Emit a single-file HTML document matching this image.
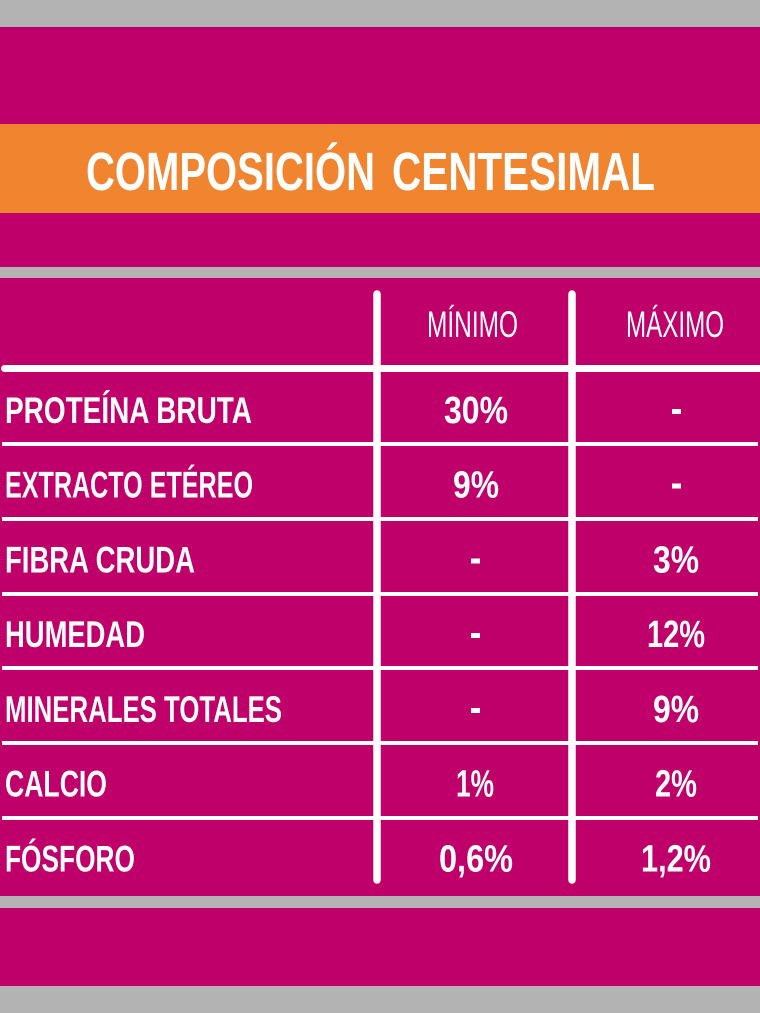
<!DOCTYPE html>
<html><head><meta charset="utf-8">
<style>
html,body{margin:0;padding:0;background:#b3b3b3;}
svg{display:block;}
.lab{font-family:"Liberation Sans Narrow","Liberation Sans",sans-serif;font-weight:bold;font-size:37px;fill:#fff;}
.val{font-family:"Liberation Sans Narrow","Liberation Sans",sans-serif;font-weight:bold;font-size:38px;fill:#fff;}
.hd{font-family:"Liberation Sans",sans-serif;font-weight:normal;font-size:37px;fill:#fff;}
.tt{font-family:"Liberation Sans",sans-serif;font-weight:bold;font-size:54px;fill:#fff;}
</style></head>
<body>
<svg width="760" height="1013" viewBox="0 0 760 1013" xmlns="http://www.w3.org/2000/svg">
  <rect x="0" y="0" width="760" height="1013" fill="#b3b3b3"/>
  <rect x="0" y="27" width="760" height="97" fill="#c0006a"/>
  <rect x="0" y="124" width="760" height="89" fill="#f0842f"/>
  <rect x="0" y="213" width="760" height="54" fill="#c0006a"/>
  <rect x="0" y="278" width="760" height="618" fill="#c0006a"/>
  <rect x="0" y="908" width="760" height="78" fill="#c0006a"/>

  <!-- title -->
  <text class="tt" x="86" y="190" textLength="289" lengthAdjust="spacingAndGlyphs">COMPOSICIÓN</text>
  <text class="tt" x="392" y="190" textLength="263" lengthAdjust="spacingAndGlyphs">CENTESIMAL</text>

  <!-- vertical lines -->
  <line x1="377" y1="294" x2="377" y2="880" stroke="#fff" stroke-width="7.5" stroke-linecap="round"/>
  <line x1="572" y1="294" x2="572" y2="880" stroke="#fff" stroke-width="7.5" stroke-linecap="round"/>

  <!-- header line -->
  <line x1="4.5" y1="368.5" x2="770" y2="368.5" stroke="#fff" stroke-width="7" stroke-linecap="round"/>
  <!-- row lines -->
  <rect x="2" y="442" width="756" height="4" fill="#fff"/>
  <rect x="2" y="517" width="756" height="4" fill="#fff"/>
  <rect x="2" y="592" width="756" height="4" fill="#fff"/>
  <rect x="2" y="666" width="756" height="4" fill="#fff"/>
  <rect x="2" y="741" width="756" height="4" fill="#fff"/>
  <rect x="2" y="816" width="756" height="4" fill="#fff"/>

  <!-- headers -->
  <text class="hd" x="427" y="337" textLength="91" lengthAdjust="spacingAndGlyphs">MÍNIMO</text>
  <text class="hd" x="626" y="337" textLength="98" lengthAdjust="spacingAndGlyphs">MÁXIMO</text>

  <!-- labels -->
  <text class="lab" x="5" y="423" textLength="247" lengthAdjust="spacingAndGlyphs">PROTEÍNA BRUTA</text>
  <text class="lab" x="5" y="497.5" textLength="248" lengthAdjust="spacingAndGlyphs">EXTRACTO ETÉREO</text>
  <text class="lab" x="5" y="572.5" textLength="190" lengthAdjust="spacingAndGlyphs">FIBRA CRUDA</text>
  <text class="lab" x="5" y="647" textLength="140" lengthAdjust="spacingAndGlyphs">HUMEDAD</text>
  <text class="lab" x="5" y="722" textLength="277" lengthAdjust="spacingAndGlyphs">MINERALES TOTALES</text>
  <text class="lab" x="5" y="796.5" textLength="102" lengthAdjust="spacingAndGlyphs">CALCIO</text>
  <text class="lab" x="5" y="871.5" textLength="130" lengthAdjust="spacingAndGlyphs">FÓSFORO</text>

  <!-- min column -->
  <text class="val" x="444" y="423" textLength="64" lengthAdjust="spacingAndGlyphs">30%</text>
  <text class="val" x="453" y="497.5" textLength="46" lengthAdjust="spacingAndGlyphs">9%</text>
  <rect x="471" y="558.5" width="9" height="5" fill="#fff"/>
  <rect x="471" y="633" width="9" height="5" fill="#fff"/>
  <rect x="471" y="708" width="9" height="5" fill="#fff"/>
  <text class="val" x="456" y="796.5" textLength="38" lengthAdjust="spacingAndGlyphs">1%</text>
  <text class="val" x="439" y="871.5" textLength="74" lengthAdjust="spacingAndGlyphs">0,6%</text>

  <!-- max column -->
  <rect x="672" y="409" width="9" height="5" fill="#fff"/>
  <rect x="672" y="483.5" width="9" height="5" fill="#fff"/>
  <text class="val" x="653" y="572.5" textLength="46" lengthAdjust="spacingAndGlyphs">3%</text>
  <text class="val" x="647" y="647" textLength="58" lengthAdjust="spacingAndGlyphs">12%</text>
  <text class="val" x="653" y="722" textLength="46" lengthAdjust="spacingAndGlyphs">9%</text>
  <text class="val" x="655" y="796.5" textLength="42" lengthAdjust="spacingAndGlyphs">2%</text>
  <text class="val" x="641" y="871.5" textLength="70" lengthAdjust="spacingAndGlyphs">1,2%</text>
</svg>
</body></html>
